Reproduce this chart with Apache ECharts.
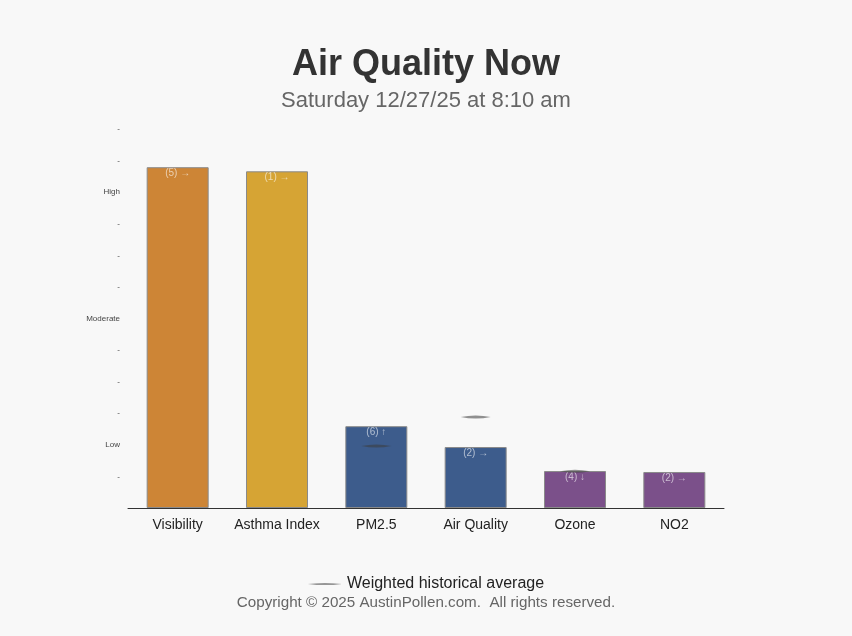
<!DOCTYPE html>
<html>
<head>
<meta charset="utf-8">
<script src="https://cdn.jsdelivr.net/npm/echarts@6/dist/echarts.min.js"></script>
<style>
html,body{margin:0;padding:0;background:#f8f8f8;}
#c{width:852px;height:636px;}
</style>
</head>
<body>
<div id="c"></div>
<script>
const categories = ['Visibility', 'Asthma Index', 'PM2.5', 'Air Quality', 'Ozone', 'NO2'];
const values = [10.79, 10.66, 2.59, 1.93, 1.17, 1.14];
const barLabels = ['(5) \u2192', '(1) \u2192', '(6) \u2191', '(2) \u2192', '(4) \u2193', '(2) \u2192'];
const barColors = ['#cd8536', '#d6a434', '#3d5c8c', '#3d5c8c', '#7b508a', '#7b508a'];
const historicalAvg = [null, null, 1.96, 2.88, 1.16, null];
const yTickLabels = ['', '-', 'Low', '-', '-', '-', 'Moderate', '-', '-', '-', 'High', '-', '-'];

const chart = echarts.init(document.getElementById('c'));
const lens = 'path://M0,5 Q50,0 100,5 Q50,10 0,5 Z';
chart.setOption({
  backgroundColor: '#f8f8f8',
  animation: false,
  title: {
    text: 'Air Quality Now',
    subtext: 'Saturday 12/27/25 at 8:10 am',
    left: 'center',
    top: 42,
    itemGap: 7,
    textStyle: {fontFamily: 'Liberation Sans, Arial, sans-serif', fontSize: 36, fontWeight: 'bold', color: '#333'},
    subtextStyle: {fontFamily: 'Liberation Sans, Arial, sans-serif', fontSize: 22, color: '#666'}
  },
  grid: {left: 128, right: 128, top: 129, bottom: 128},
  legend: {
    bottom: 39,
    left: 'center',
    data: [{name: 'Weighted historical average', icon: lens}],
    itemWidth: 34,
    itemHeight: 3,
    itemStyle: {color: '#555'},
    textStyle: {fontFamily: 'Liberation Sans, Arial, sans-serif', fontSize: 16, color: '#222'}
  },
  xAxis: {
    type: 'category',
    data: categories,
    axisLine: {lineStyle: {color: '#333', width: 1}},
    axisTick: {show: false},
    axisLabel: {interval: 0, fontFamily: 'Liberation Sans, Arial, sans-serif', fontSize: 14, color: '#222', margin: 10}
  },
  yAxis: {
    type: 'value',
    min: 0,
    max: 12,
    interval: 1,
    splitLine: {show: false},
    axisLine: {show: false},
    axisTick: {show: false},
    axisLabel: {
      fontFamily: 'Liberation Sans, Arial, sans-serif',
      fontSize: 8,
      color: '#444',
      margin: 8,
      formatter: v => yTickLabels[Math.round(v)] || ''
    }
  },
  series: [
    {
      type: 'bar',
      name: 'Level',
      barWidth: 62,
      data: values.map((v, i) => ({value: v, itemStyle: {color: barColors[i]}})),
      itemStyle: {borderColor: '#8a8a8a', borderWidth: 1},
      label: {
        show: true,
        position: 'insideTop',
        distance: 1,
        fontFamily: 'Liberation Sans, Arial, sans-serif',
        fontSize: 10,
        color: 'rgba(255,255,255,0.6)',
        formatter: p => barLabels[p.dataIndex]
      }
    },
    {
      type: 'scatter',
      name: 'Weighted historical average',
      symbol: lens,
      symbolSize: [30, 3],
      itemStyle: {color: 'rgba(60,60,60,0.7)'},
      z: 5,
      data: historicalAvg
    }
  ],
  graphic: [{
    type: 'text',
    left: 'center',
    top: 595,
    style: {
      text: 'Copyright \u00a9 2025 AustinPollen.com.  All rights reserved.',
      fontFamily: 'Liberation Sans, Arial, sans-serif',
      fontSize: 15.2,
      fill: '#666'
    }
  }]
});
</script>
</body>
</html>
